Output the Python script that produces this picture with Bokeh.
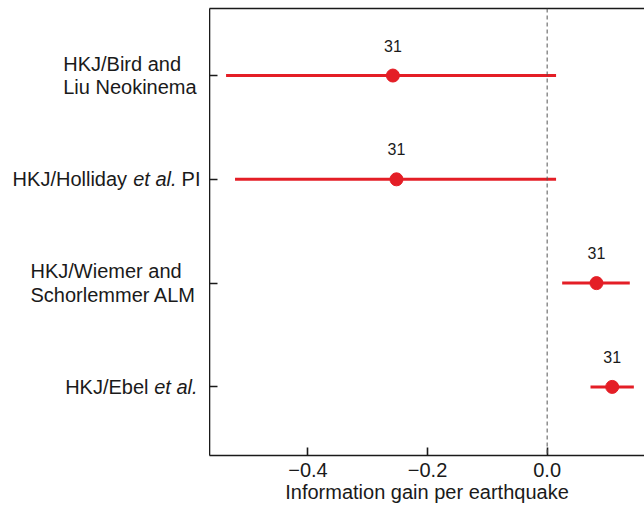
from bokeh.plotting import figure
from bokeh.models import Range1d, FixedTicker, LinearAxis, Span, ColumnDataSource
from bokeh.layouts import row
from bokeh.embed import file_html
from bokeh.resources import INLINE

# ---- data ----
row_pos = [4, 3, 2, 1]
gain = [-0.258, -0.252, 0.0825, 0.1088]
gain_lo = [-0.537, -0.522, 0.0251, 0.0725]
gain_hi = [0.0149, 0.0149, 0.1382, 0.1450]
n_eq = ["31", "31", "31", "31"]
x_ticks = [-0.4, -0.2, 0.0]
x_tick_labels = ["\u22120.4", "\u22120.2", "0.0"]
x_label = "Information gain per earthquake"
# each row label: list of (text, font_style)
row_labels = [
    [("HKJ/Bird and\nLiu Neokinema", "normal")],
    [("HKJ/Holliday", "normal"), ("et al.", "italic"), ("PI", "normal")],
    [("HKJ/Wiemer and\nSchorlemmer ALM", "normal")],
    [("HKJ/Ebel", "normal"), ("et al.", "italic")],
]

X0, X1 = -0.5647, 0.1628
Y0, Y1 = 0.339, 4.646
RED = "#e41e26"
INK = "#1a1a1a"
FONT = "Liberation Sans"
FS = "20px"
LEFT_W = 209

yr = Range1d(Y0, Y1)

p = figure(width=644 - LEFT_W, height=508, x_range=Range1d(X0, X1), y_range=yr,
           output_backend="svg", toolbar_location=None,
           min_border_left=0, min_border_right=0, min_border_top=8, min_border_bottom=53)
p.outline_line_color = None
p.xgrid.visible = False
p.ygrid.visible = False

# x axis
xa = p.xaxis[0]
xa.ticker = FixedTicker(ticks=x_ticks)
xa.major_label_overrides = {t: s for t, s in zip(x_ticks, x_tick_labels)}
xa.major_tick_in = 8
xa.major_tick_out = 0
xa.minor_tick_in = 0
xa.minor_tick_out = 0
xa.axis_line_width = 1.6
xa.axis_line_color = INK
xa.major_tick_line_color = INK
xa.major_tick_line_width = 1.6
xa.major_label_text_font = FONT
xa.major_label_text_font_size = FS
xa.major_label_text_color = INK
xa.major_label_standoff = 7
xa.axis_label = x_label
xa.axis_label_text_font = FONT
xa.axis_label_text_font_size = FS
xa.axis_label_text_font_style = "normal"
xa.axis_label_text_color = INK
xa.axis_label_standoff = 1

# y axis (labels drawn in the left panel)
ya = p.yaxis[0]
ya.ticker = FixedTicker(ticks=row_pos)
ya.major_label_overrides = {t: "" for t in row_pos}
ya.major_label_standoff = 0
ya.major_tick_in = 8
ya.major_tick_out = 0
ya.minor_tick_in = 0
ya.minor_tick_out = 0
ya.axis_line_width = 1.6
ya.axis_line_color = INK
ya.major_tick_line_color = INK
ya.major_tick_line_width = 1.6

# top frame line
top = LinearAxis(ticker=FixedTicker(ticks=[]),
                 major_tick_in=0, major_tick_out=0, minor_tick_in=0, minor_tick_out=0,
                 major_label_standoff=0, axis_line_width=1.6, axis_line_color=INK)
p.add_layout(top, "above")

# zero line
p.add_layout(Span(location=0, dimension="height", line_color="#555555",
                  line_width=1, line_dash="4 3"))

src = ColumnDataSource(dict(y=row_pos, g=gain, lo=gain_lo, hi=gain_hi, n=n_eq))
p.segment(x0="lo", y0="y", x1="hi", y1="y", source=src, line_color=RED, line_width=3)
p.scatter(x="g", y="y", source=src, size=13, fill_color=RED, line_color=RED)
p.text(x="g", y="y", text="n", source=src, y_offset=-30, text_align="center",
       text_baseline="middle", text_font_size="16px", text_font={"value": FONT},
       text_color=INK)

# ---- left panel with row labels (x in screen px of this panel) ----
lp = figure(width=LEFT_W, height=508, x_range=Range1d(0, LEFT_W), y_range=yr,
            output_backend="svg", toolbar_location=None,
            min_border_left=0, min_border_right=0, min_border_top=8, min_border_bottom=53)
lp.axis.visible = False
lp.grid.visible = False
lp.outline_line_color = None

label_pos = [
    [(62.7, "left")],
    [(126.6, "right"), (176.0, "right"), (200.0, "right")],
    [(30.0, "left")],
    [(148.0, "right"), (197.0, "right")],
]
for yv, segs, poss in zip(row_pos, row_labels, label_pos):
    for (txt, style), (xp, align) in zip(segs, poss):
        lp.text(x=[xp], y=[yv], text=[txt], text_align=align, text_baseline="middle",
                text_font={"value": FONT}, text_font_size=FS, text_font_style=style,
                text_color=INK, text_line_height=1.08)

layout = row(lp, p, spacing=0)
open("out.html", "w").write(file_html(layout, INLINE))
